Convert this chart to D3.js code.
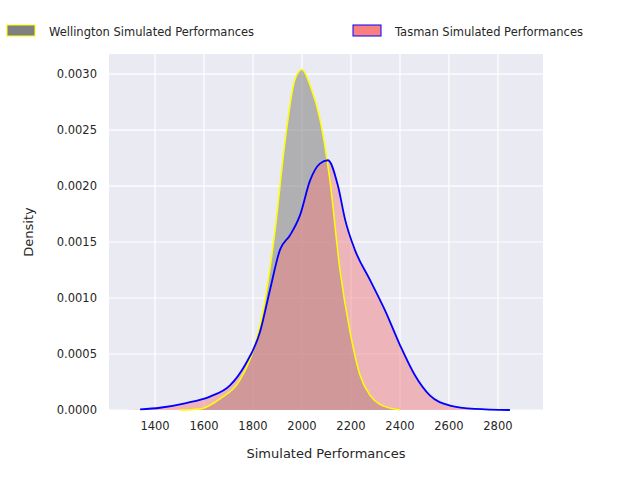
<!DOCTYPE html>
<html>
<head>
<meta charset="utf-8">
<script src="https://cdn.jsdelivr.net/npm/d3@7"></script>
<style>
  body { margin: 0; background: #fff; }
  text { font-family: "DejaVu Sans", sans-serif; fill: #262626; }
</style>
</head>
<body>
<svg id="chart" width="640" height="480"></svg>
<script>
// Wellington density
const wellX = [1500, 1584, 1665, 1747, 1808, 1849, 1890, 1931, 1971, 2000, 2033, 2073, 2114, 2155, 2196, 2237, 2278, 2318, 2400]
const wellY = [0, 0.00001, 0.0001, 0.00027, 0.00058, 0.00098, 0.0016, 0.0024, 0.00295, 0.00304, 0.0029, 0.0026, 0.00205, 0.00125, 0.0007, 0.00031, 0.00013, 0.00005, 0]

// Tasman density
const tasX = [1290, 1339, 1420, 1522, 1624, 1706, 1767, 1829, 1869, 1910, 1951, 1992, 2033, 2073, 2106, 2147, 2176, 2216, 2278, 2339, 2400, 2461, 2522, 2604, 2706, 2849, 2900]
const tasY = [0, 0.000005, 0.00002, 0.00006, 0.00012, 0.00022, 0.0004, 0.0007, 0.00107, 0.00143, 0.00156, 0.00174, 0.00205, 0.0022, 0.00223, 0.002, 0.0017, 0.00143, 0.00116, 0.00089, 0.00058, 0.00031, 0.00013, 0.00004, 0.00001, 0, 0]

const xTicks = [1400, 1600, 1800, 2000, 2200, 2400, 2600, 2800]
const yTicks = [0, 0.0005, 0.001, 0.0015, 0.002, 0.0025, 0.003]

const pLeft = 109, pRight = 543, pTop = 54, pBottom = 410

const x = d3.scaleLinear().domain([1212, 2984]).range([pLeft, pRight])
const y = d3.scaleLinear().domain([0, 0.003179]).range([pBottom, pTop])

const svg = d3.select('#chart')

svg.append('rect')
  .attr('x', pLeft).attr('y', pTop)
  .attr('width', pRight - pLeft).attr('height', pBottom - pTop)
  .attr('fill', '#eaeaf2')

const grid = svg.append('g')
grid.selectAll('.vx').data(xTicks).enter().append('line')
  .attr('x1', d => x(d)).attr('x2', d => x(d))
  .attr('y1', pTop).attr('y2', pBottom)
  .attr('stroke', '#fff').attr('stroke-width', 1.2)
grid.selectAll('.hy').data(yTicks).enter().append('line')
  .attr('x1', pLeft).attr('x2', pRight)
  .attr('y1', d => y(d)).attr('y2', d => y(d))
  .attr('stroke', '#fff').attr('stroke-width', 1.2)

function pts (xs, ys) {
  return xs.map((v, i) => [v, ys[i]])
}

const area = d3.area().curve(d3.curveMonotoneX)
  .x(d => x(d[0])).y0(y(0)).y1(d => y(d[1]))
const line = d3.line().curve(d3.curveMonotoneX)
  .x(d => x(d[0])).y(d => y(d[1]))

const well = pts(wellX, wellY)
const tas = pts(tasX, tasY)

svg.append('path').attr('d', area(well))
  .attr('fill', 'rgb(128,128,128)').attr('fill-opacity', 0.55)
svg.append('path').attr('d', area(tas))
  .attr('fill', 'rgb(240,128,128)').attr('fill-opacity', 0.5)
svg.append('path').attr('d', line(well))
  .attr('fill', 'none').attr('stroke', 'yellow').attr('stroke-width', 1.5)
svg.append('path').attr('d', line(tas.filter(d => d[0] <= 2849 && d[0] >= 1339)))
  .attr('fill', 'none').attr('stroke', 'blue').attr('stroke-width', 1.8)

// ticks
svg.selectAll('.xt').data(xTicks).enter().append('text')
  .attr('x', d => x(d)).attr('y', pBottom + 20)
  .attr('text-anchor', 'middle').attr('font-size', 11.5)
  .text(d => d)
svg.selectAll('.yt').data(yTicks).enter().append('text')
  .attr('x', pLeft - 12).attr('y', d => y(d) + 4)
  .attr('text-anchor', 'end').attr('font-size', 11.5)
  .text(d => d.toFixed(4))

svg.append('text')
  .attr('x', (pLeft + pRight) / 2).attr('y', 458)
  .attr('text-anchor', 'middle').attr('font-size', 13)
  .text('Simulated Performances')
svg.append('text')
  .attr('transform', `translate(33,${(pTop + pBottom) / 2}) rotate(-90)`)
  .attr('text-anchor', 'middle').attr('font-size', 13)
  .text('Density')

// legend
const legend = [
  { label: 'Wellington Simulated Performances', fill: 'rgb(128,128,128)', stroke: 'yellow', x: 7 },
  { label: 'Tasman Simulated Performances', fill: 'rgb(250,128,128)', stroke: 'blue', x: 353 }
]
const lg = svg.selectAll('.lg').data(legend).enter().append('g')
lg.append('rect')
  .attr('x', d => d.x).attr('y', 25).attr('width', 28).attr('height', 11)
  .attr('fill', d => d.fill).attr('stroke', d => d.stroke)
lg.append('text')
  .attr('x', d => d.x + 42).attr('y', 35.5)
  .attr('font-size', 11.5)
  .text(d => d.label)
</script>
</body>
</html>
